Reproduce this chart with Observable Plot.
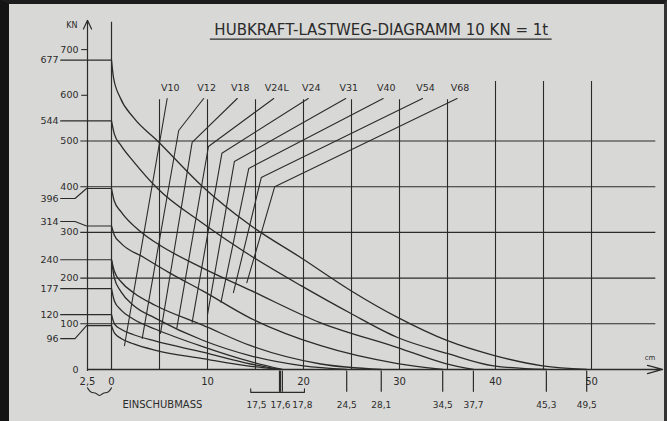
<!DOCTYPE html>
<html><head><meta charset="utf-8">
<script src="https://cdn.jsdelivr.net/npm/d3@7"></script>
<script src="https://cdn.jsdelivr.net/npm/@observablehq/plot@0.6"></script>
<style>
html,body{margin:0;padding:0;background:#d8d8d6;}
#wrap{position:relative;width:667px;height:421px;overflow:hidden;background:#d8d8d6;}
#frame{position:absolute;left:0;top:0;width:667px;height:421px;box-sizing:border-box;border-left:9px solid #141414;border-top:4px solid #1c1c1c;border-right:3px solid #333;pointer-events:none;}
</style></head>
<body><div id="wrap"><div id="chart"></div><div id="frame"></div></div>
<script>
// ---------- data ----------
const title = "HUBKRAFT-LASTWEG-DIAGRAMM 10 KN = 1t";
const gridForces = [100, 200, 300, 400, 500];
const axisForces = [0, 100, 200, 300, 400, 500, 600, 700];
const gridStrokes = [5, 10, 15, 20, 25, 30, 35, 40, 45, 50];
const strokeTicks = [-2.5, 0, 10, 20, 30, 40, 50];
const strokeTickLabels = ["2,5", "0", "10", "20", "30", "40", "50"];
const refForces = [677, 544, 396, 314, 240, 177, 120, 96];
const endStrokes = [17.5, 17.6, 17.8, 24.5, 28.1, 34.5, 37.7, 45.3, 49.5];
const endStrokeLabels = ["17,5", "17,6", "17,8", "24,5", "28,1", "34,5", "37,7", "45,3", "49,5"];
const einschub = [-2.5, 0];

// cylinder V-lines (stroke cm, force kN): top, kink, bottom
const cylinders = ["V10", "V12", "V18", "V24L", "V24", "V31", "V40", "V54", "V68"];
const vTopStroke = [5.8, 9.6, 13.1, 16.9, 20.5, 24.4, 28.3, 32.4, 36.0];
const vTopForce = [593, 593, 593, 593, 593, 593, 593, 593, 593];
const vKinkStroke = [5.8, 7.0, 8.4, 10.1, 11.5, 12.8, 14.3, 15.6, 17.0];
const vKinkForce = [593, 523, 497, 488, 473, 455, 440, 420, 400];
const vEndStroke = [1.35, 3.2, 5.1, 6.8, 8.4, 10.0, 11.4, 12.7, 14.1];
const vEndForce = [52, 68, 79, 90, 103, 120, 147, 168, 190];

// load curves: stroke (cm) vs force (kN)
const v68Stroke = [0, 0.2, 0.9, 2.3, 4.8, 9.5, 14.5, 19.7, 24.9, 29.8, 35, 39.8, 44.9, 49.5];
const v68Force  = [677, 640, 595, 551, 500, 400, 315, 245, 173, 114, 63, 31, 8, 0];
const v54Stroke = [0, 0.3, 1, 2.3, 4.8, 9.5, 14.5, 19.7, 24.9, 29.8, 35, 39.8, 45.3];
const v54Force  = [544, 515, 490, 455, 396, 320, 249, 184, 123, 70, 35, 8, 0];
const v40Stroke = [0, 0.3, 1, 3, 4.8, 9.3, 14.5, 21.8, 29.8, 34.8, 37.7];
const v40Force  = [396, 368, 345, 302, 275, 224, 173, 102, 48, 13, 0];
const v31Stroke = [0, 0.3, 1, 3.3, 6, 9.5, 14.5, 21.8, 29.8, 34.5];
const v31Force  = [314, 294, 276, 246, 212, 172, 112, 52, 13, 0];
const v24LStroke = [0, 0.3, 1, 2.3, 4.6, 9.5, 14.5, 21.8, 28.1];
const v24LForce  = [240, 215, 192, 168, 140, 97, 52, 12, 0];
const v24Stroke = [0, 0.3, 1, 2.3, 4.6, 9.5, 14.5, 20, 24.5];
const v24Force  = [240, 200, 170, 140, 112, 64, 30, 8, 0];
const v18Stroke = [0, 0.3, 1, 2.3, 4.6, 9.5, 14.5, 17.8];
const v18Force  = [177, 150, 130, 110, 88, 50, 17, 0];
const v12Stroke = [0, 0.3, 1, 2.3, 4.6, 9.5, 14.5, 17.6];
const v12Force  = [120, 100, 88, 76, 62, 38, 12, 0];
const v10Stroke = [0, 0.3, 1, 2.3, 4.6, 9.5, 14.5, 17.5];
const v10Force  = [96, 80, 68, 56, 42, 24, 7, 0];

// ---------- build tables ----------
const curves = [];
function addCurve(name, xs, ys) { xs.forEach((x, i) => curves.push({name, stroke: x, force: ys[i]})); }
addCurve("V68", v68Stroke, v68Force);
addCurve("V54", v54Stroke, v54Force);
addCurve("V40", v40Stroke, v40Force);
addCurve("V31", v31Stroke, v31Force);
addCurve("V24L", v24LStroke, v24LForce);
addCurve("V24", v24Stroke, v24Force);
addCurve("V18", v18Stroke, v18Force);
addCurve("V12", v12Stroke, v12Force);
addCurve("V10", v10Stroke, v10Force);

const vLines = [];
cylinders.forEach((name, i) => {
  vLines.push({name, stroke: vTopStroke[i], force: vTopForce[i]});
  vLines.push({name, stroke: vKinkStroke[i], force: vKinkForce[i]});
  vLines.push({name, stroke: vEndStroke[i], force: vEndForce[i]});
});
const vLabels = cylinders.map((name, i) => ({name, stroke: vTopStroke[i], force: vTopForce[i]}));

// layout helpers (pixel scale: 9.6 px/cm, 0.457 px/kN)
const pxPerKN = 0.457, pxPerCm = 9.6;
const refLabelShiftPx = {396: 10, 314: -4.5, 96: 13};
const refLeaders = [];
const refLabels = refForces.map(v => {
  const ly = v - (refLabelShiftPx[v] || 0) / pxPerKN;
  refLeaders.push({v, stroke: -5.3, force: ly});
  refLeaders.push({v, stroke: -3.8, force: ly});
  refLeaders.push({v, stroke: -2.6, force: v});
  refLeaders.push({v, stroke: 0, force: v});
  return {label: String(v), force: ly};
});

const [b1, b2] = einschub, bm = (b1 + b2) / 2;
const brace = [[b1, -40], [b1 + 0.3, -51], [bm - 0.3, -51], [bm, -60], [bm + 0.3, -51], [b2 - 0.3, -51], [b2, -40]]
  .map(([stroke, force]) => ({stroke, force}));

const cluster = endStrokes.filter(s => s < 18);
const cMin = d3.min(cluster), cMax = d3.max(cluster);
const bracket = [[cMin - 3, -42], [cMin - 3, -50], [cMax + 2.3, -50], [cMax + 2.3, -42]]
  .map(([stroke, force]) => ({stroke, force}));
const endLabelShiftPx = {17.5: -23, 17.6: 0, 17.8: 20};
const endLabels = endStrokes.map((s, i) => ({label: endStrokeLabels[i], stroke: s + (endLabelShiftPx[s] || 0) / pxPerCm}));

const ink = "#2b2b2b";
const font = "DejaVu Sans";

const chart = Plot.plot({
  width: 667, height: 421, margin: 0,
  x: {domain: [-11.5625, 57.9167], axis: null},
  y: {domain: [-113.8, 807.4], axis: null},
  style: {background: "transparent", fontFamily: font, color: ink},
  marks: [
    // horizontal grid
    Plot.ruleY(gridForces, {y: d => d, x1: -3.2, x2: 56.7, stroke: ink, strokeWidth: 1.1}),
    Plot.ruleY([600, 700], {y: d => d, x1: -3.1, x2: -2.5, stroke: ink, strokeWidth: 1.1}),
    // vertical grid
    Plot.ruleX(gridStrokes, {x: d => d, y1: 0, y2: d => d >= 40 ? 630 : 590, stroke: ink, strokeWidth: 1.1}),
    Plot.ruleX([0], {x: d => d, y1: 0, y2: 760, stroke: ink, strokeWidth: 1.2}),
    // axes with arrows
    Plot.arrow([0], {x1: -2.5, x2: -2.5, y1: -2, y2: 764, headLength: 12, headAngle: 50, stroke: ink, strokeWidth: 1.2}),
    Plot.arrow([0], {x1: -2.5, x2: 57.4, y1: 0, y2: 0, headLength: 18, headAngle: 30, stroke: ink, strokeWidth: 1.3}),
    // reference leaders
    Plot.line(refLeaders, {x: "stroke", y: "force", z: "v", stroke: ink, strokeWidth: 1.1}),
    Plot.text(refLabels, {x: -5.3, y: "force", text: "label", textAnchor: "end", dx: -2, fontSize: 9.5, fill: ink}),
    // y tick labels
    Plot.text(axisForces, {x: -2.5, y: d => d, text: d => String(d), textAnchor: "end", dx: -9, fontSize: 9.5, fill: ink}),
    Plot.text(["KN"], {x: -2.5, y: 753, text: d => d, textAnchor: "end", dx: -10, fontSize: 8, fill: ink}),
    // load curves
    Plot.line(curves, {x: "stroke", y: "force", z: "name", curve: "monotone-x", stroke: ink, strokeWidth: 1.3}),
    // cylinder lines
    Plot.line(vLines, {x: "stroke", y: "force", z: "name", stroke: ink, strokeWidth: 1.1}),
    Plot.text(vLabels, {x: "stroke", y: "force", text: "name", dx: 3, dy: -11, fontSize: 9.5, fill: ink}),
    // x tick labels
    Plot.text(strokeTicks, {x: d => d, y: -28, text: (d, i) => strokeTickLabels[i], fontSize: 10, fill: ink}),
    Plot.text(["cm"], {x: 56.1, y: 26, text: d => d, fontSize: 7, fill: ink}),
    // end stroke ticks & labels
    Plot.ruleX(endStrokes, {x: d => d, y1: -4, y2: -50, stroke: ink, strokeWidth: 1.2}),
    Plot.line(bracket, {x: "stroke", y: "force", stroke: ink, strokeWidth: 1.1}),
    Plot.text(endLabels, {x: "stroke", y: -77, text: "label", fontSize: 9, fill: ink}),
    // einschub brace
    Plot.line(brace, {x: "stroke", y: "force", curve: "basis", stroke: ink, strokeWidth: 1.1}),
    Plot.text(["EINSCHUBMASS"], {x: 5.3, y: -77, text: d => d, fontSize: 10, fill: ink}),
    // title
    Plot.text([title], {x: 28.1, y: 742, text: d => d, fontSize: 15, fill: ink}),
    Plot.ruleY([723], {y: d => d, x1: 10.3, x2: 45.9, stroke: ink, strokeWidth: 1.3})
  ]
});
document.getElementById("chart").appendChild(chart);
</script>
</body></html>
